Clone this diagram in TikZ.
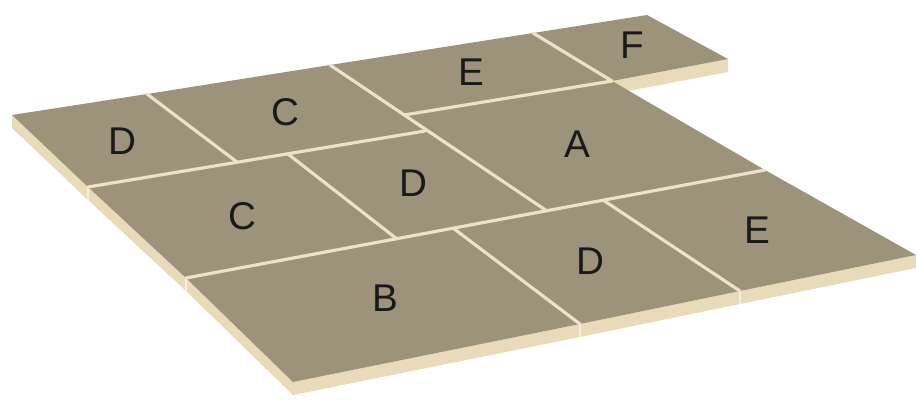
\documentclass[tikz,border=0pt]{standalone}
\usepackage{fontspec}
\setmainfont{Liberation Sans}
\usetikzlibrary{calc}
\definecolor{tiletop}{RGB}{157,147,123}
\definecolor{tileside}{RGB}{233,218,186}
\definecolor{seamcol}{RGB}{237,226,200}
\definecolor{labeldark}{gray}{0.1}
\tikzset{
  topface/.style={fill=tiletop},
  sideface/.style={fill=tileside},
  seam/.style={draw=seamcol, line width=1.8pt, line cap=round},
  joint/.style={draw=white!55!tileside, line width=0.7pt},
  tilelabel/.style={font=\fontsize{22}{26}\selectfont, text=labeldark, inner sep=0pt}
}

\begin{document}
\begin{tikzpicture}[x=0.02cm, y=-0.02cm]
  \useasboundingbox (0,0) rectangle (916,400);

  % back edge
  \coordinate (b0) at (12,115);
  \coordinate (b1) at (147,94);
  \coordinate (b2) at (330,65);
  \coordinate (b3) at (533,33);
  \coordinate (b4) at (647,15);
  \coordinate (f1) at (728,59);
  \coordinate (fa) at (612,81);
  % first inner row
  \coordinate (d1) at (88,187);
  \coordinate (c1) at (237,162);
  \coordinate (m1) at (288,154);
  \coordinate (e1) at (404,115);
  \coordinate (j1) at (425,131);
  % long seam
  \coordinate (s0) at (186,278);
  \coordinate (s1) at (397,239);
  \coordinate (s2) at (453,228);
  \coordinate (s3) at (547,211);
  \coordinate (s4) at (603,200);
  \coordinate (a1) at (765,170);
  % front edge
  \coordinate (r4) at (293,382);
  \coordinate (r3) at (580,324);
  \coordinate (r2) at (740,291);
  \coordinate (r1) at (916,255);

  % visible sides
  \foreach \a/\b in {b0/d1, d1/s0, s0/r4, r4/r3, r3/r2, r2/r1, fa/f1}
    \fill[sideface] (\a) -- (\b) -- ++(0,13) -- ($(\a)+(0,13)$) -- cycle;
  \foreach \p in {d1, s0, r3, r2}
    \draw[joint] (\p) -- ++(0,13);

  % tops
  \fill[topface] (b0) -- (b1) -- (c1) -- (d1) -- cycle;
  \fill[topface] (b1) -- (b2) -- (j1) -- (c1) -- cycle;
  \fill[topface] (b2) -- (b3) -- (fa) -- (e1) -- cycle;
  \fill[topface] (b3) -- (b4) -- (f1) -- (fa) -- cycle;
  \fill[topface] (e1) -- (fa) -- (a1) -- (s3) -- (j1) -- cycle;
  \fill[topface] (d1) -- (m1) -- (s1) -- (s0) -- cycle;
  \fill[topface] (m1) -- (j1) -- (s3) -- (s1) -- cycle;
  \fill[topface] (s0) -- (s2) -- (r3) -- (r4) -- cycle;
  \fill[topface] (s2) -- (s4) -- (r2) -- (r3) -- cycle;
  \fill[topface] (s4) -- (a1) -- (r1) -- (r2) -- cycle;

  % seams
  \draw[seam] (b1) -- (c1);
  \draw[seam] (d1) -- (j1);
  \draw[seam] (b2) -- (s3);
  \draw[seam] (e1) -- (fa);
  \draw[seam] (b3) -- (fa);
  \draw[seam] (m1) -- (s1);
  \draw[seam] (s0) -- (a1);
  \draw[seam] (s2) -- (r3);
  \draw[seam] (s4) -- (r2);

  % labels
  \node[tilelabel] (lblD1) at (122,141) {D};
  \node[tilelabel] (lblC1) at (285,112) {C};
  \node[tilelabel] (lblE1) at (471,72) {E};
  \node[tilelabel] (lblF) at (632,45) {F};
  \node[tilelabel] (lblA) at (577,144) {A};
  \node[tilelabel] (lblC2) at (242,216) {C};
  \node[tilelabel] (lblD2) at (413,183) {D};
  \node[tilelabel] (lblB) at (385,298) {B};
  \node[tilelabel] (lblD3) at (590,261) {D};
  \node[tilelabel] (lblE2) at (757,230) {E};
\end{tikzpicture}
\end{document}
